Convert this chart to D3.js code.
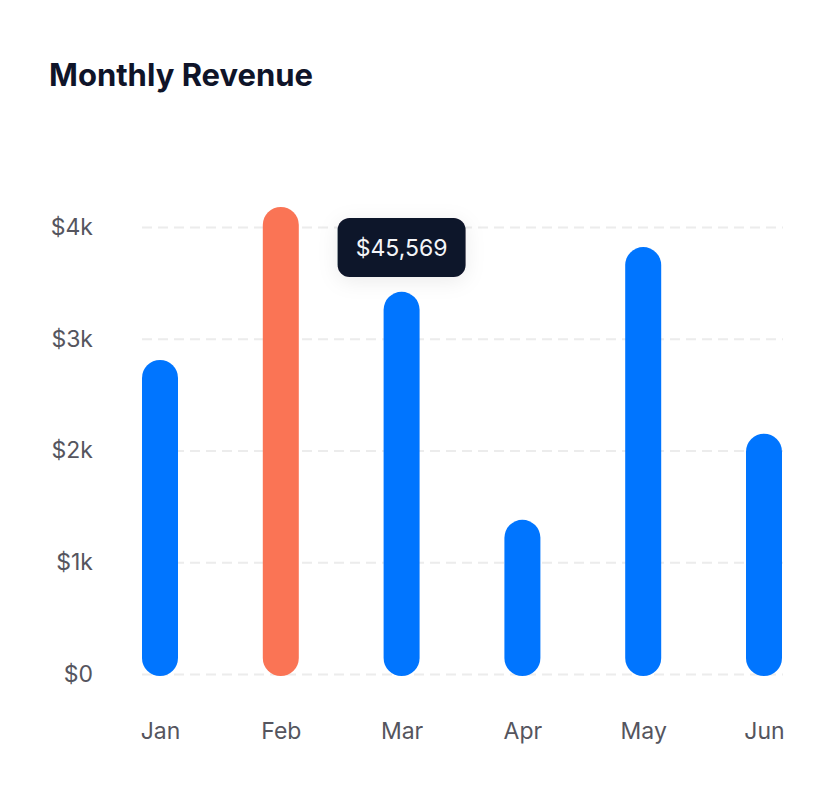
<!DOCTYPE html>
<html>
<head>
<meta charset="utf-8">
<script src="https://cdn.jsdelivr.net/npm/d3@7"></script>
<style>
  html, body { margin: 0; padding: 0; background: #ffffff; }
  svg { display: block; font-family: Inter, "Noto Sans", sans-serif; }
</style>
</head>
<body>
<svg id="chart" width="832" height="792"></svg>
<script>
const months = ["Jan", "Feb", "Mar", "Apr", "May", "Jun"];
const revenue = [2810, 4180, 3420, 1380, 3820, 2150];
const highlighted = ["Feb"];
const yTicks = [0, 1000, 2000, 3000, 4000];
const tooltipMonth = "Mar";
const tooltipLabel = "$45,569";

(function () {
const svg = d3.select("#chart");
const plotLeft = 142, plotRight = 783, plotTop = 227, plotBottom = 674;

const x = d3.scalePoint().domain(months).range([160, 764]);
const y = d3.scaleLinear().domain([0, 4000]).range([plotBottom, plotTop]);
const barW = 36;

svg.append("text")
  .attr("x", 49).attr("y", 86)
  .attr("fill", "#0f1429")
  .attr("font-size", 31).attr("font-weight", 700)
  .text("Monthly Revenue");

const yAxis = d3.axisLeft(y)
  .tickValues(yTicks)
  .tickSize(-(plotRight - plotLeft))
  .tickPadding(49)
  .tickFormat(d => d === 0 ? "$0" : "$" + d / 1000 + "k");

const gy = svg.append("g").attr("transform", `translate(${plotLeft},0)`).call(yAxis);
gy.select(".domain").remove();
gy.selectAll(".tick line")
  .attr("stroke", "#ececec").attr("stroke-width", 2)
  .attr("stroke-dasharray", "10 6");
gy.selectAll(".tick text")
  .attr("fill", "#55555e").attr("font-size", 23)
  .attr("font-family", "Inter, 'Noto Sans', sans-serif");

const xAxis = d3.axisBottom(x).tickSize(0).tickPadding(0);
const gx = svg.append("g").attr("transform", `translate(0,${plotBottom})`).call(xAxis);
gx.select(".domain").remove();
gx.selectAll(".tick text")
  .attr("fill", "#55555e").attr("font-size", 23)
  .attr("font-family", "Inter, 'Noto Sans', sans-serif")
  .attr("dy", null).attr("y", 65);

const data = months.map((m, i) => ({ m, v: revenue[i] }));
svg.append("g").selectAll("rect").data(data).join("rect")
  .attr("x", d => x(d.m) - barW / 2)
  .attr("width", barW)
  .attr("y", d => y(d.v))
  .attr("height", d => y(0) - y(d.v) + 2)
  .attr("rx", barW / 2)
  .attr("fill", d => highlighted.includes(d.m) ? "#fa7455" : "#0075ff");

// tooltip
const defs = svg.append("defs");
const f = defs.append("filter").attr("id", "shadow")
  .attr("x", "-50%").attr("y", "-50%").attr("width", "200%").attr("height", "200%");
f.append("feDropShadow").attr("dx", 0).attr("dy", 4).attr("stdDeviation", 10)
  .attr("flood-color", "#000").attr("flood-opacity", 0.08);

const tx = x(tooltipMonth);
const tw = 128, th = 59;
const tg = svg.append("g").attr("transform", `translate(${tx - tw / 2},218)`);
tg.append("rect").attr("width", tw).attr("height", th).attr("rx", 12)
  .attr("fill", "#0e1329").attr("filter", "url(#shadow)");
tg.append("text").attr("x", tw / 2).attr("y", 38)
  .attr("text-anchor", "middle").attr("fill", "#f4f5f8")
  .attr("font-size", 23)
  .text(tooltipLabel);
})();
</script>
</body>
</html>
